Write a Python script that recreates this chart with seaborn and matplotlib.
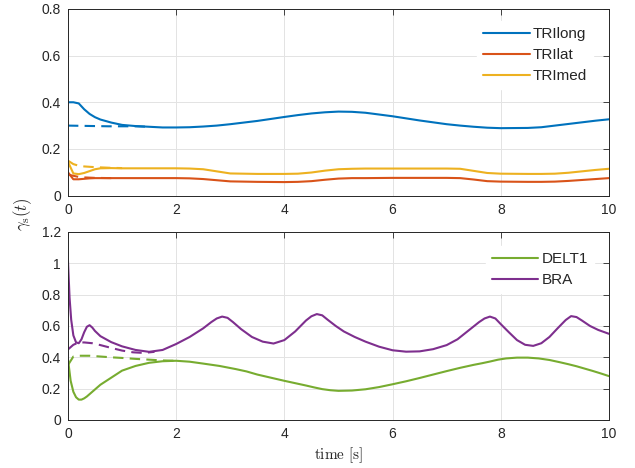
import matplotlib
matplotlib.use("Agg")
import matplotlib.pyplot as plt
import seaborn as sns

# time grid for the upper panel (s)
t_top = [0, 0.1, 0.2, 0.3, 0.4, 0.5, 0.6, 0.8, 1.0, 1.25, 1.5, 1.75, 2.0, 2.25,
         2.5, 2.75, 3.0, 3.5, 4.0, 4.25, 4.5, 4.75, 5.0, 5.25, 5.5, 6.0, 6.5,
         7.0, 7.25, 7.5, 7.75, 8.0, 8.5, 8.75, 9.0, 9.25, 9.5, 9.75, 10.0]

tri_long = [0.400, 0.400, 0.395, 0.370, 0.350, 0.336, 0.326, 0.313, 0.303, 0.298,
            0.295, 0.292, 0.292, 0.293, 0.296, 0.300, 0.306, 0.320, 0.337, 0.345,
            0.352, 0.357, 0.360, 0.359, 0.355, 0.340, 0.322, 0.306, 0.300, 0.295,
            0.291, 0.289, 0.290, 0.293, 0.300, 0.307, 0.314, 0.321, 0.327]

tri_lat = [0.100, 0.070, 0.070, 0.072, 0.074, 0.075, 0.075, 0.075, 0.075, 0.075,
           0.075, 0.075, 0.075, 0.074, 0.071, 0.066, 0.061, 0.059, 0.058, 0.059,
           0.062, 0.068, 0.073, 0.075, 0.075, 0.076, 0.076, 0.076, 0.075, 0.069,
           0.062, 0.060, 0.059, 0.059, 0.060, 0.063, 0.067, 0.071, 0.075]

tri_med = [0.145, 0.095, 0.092, 0.097, 0.105, 0.113, 0.117, 0.118, 0.117, 0.117,
           0.117, 0.117, 0.117, 0.116, 0.113, 0.104, 0.095, 0.093, 0.093, 0.094,
           0.099, 0.107, 0.113, 0.115, 0.116, 0.116, 0.116, 0.116, 0.115, 0.106,
           0.097, 0.094, 0.093, 0.093, 0.094, 0.098, 0.104, 0.110, 0.115]

# dashed (reference) traces, only where they differ from the solid ones
t_long_ref = [0, 0.25, 0.5, 0.75, 1.0, 1.25, 1.5]
tri_long_ref = [0.300, 0.299, 0.298, 0.297, 0.297, 0.297, 0.295]
t_lat_ref = [0, 0.1, 0.2, 0.3, 0.5, 0.8]
tri_lat_ref = [0.090, 0.085, 0.080, 0.078, 0.076, 0.075]
t_med_ref = [0, 0.1, 0.2, 0.3, 0.5, 0.8, 1.0]
tri_med_ref = [0.150, 0.135, 0.128, 0.125, 0.122, 0.119, 0.118]

# lower panel (s)
t_delt1 = [0, 0.05, 0.1, 0.15, 0.2, 0.25, 0.3, 0.35, 0.4, 0.5, 0.6, 0.8, 1.0,
           1.25, 1.5, 1.75, 2.0, 2.25, 2.5, 2.8, 3.1, 3.3, 3.5, 3.75, 4.0, 4.2,
           4.4, 4.55, 4.7, 4.85, 5.0, 5.25, 5.5, 5.75, 6.0, 6.25, 6.5, 6.75, 7.0,
           7.25, 7.5, 7.65, 7.8, 7.95, 8.1, 8.3, 8.5, 8.7, 8.9, 9.1, 9.25, 9.4,
           9.55, 9.7, 9.85, 10.0]

delt1 = [0.390, 0.250, 0.180, 0.145, 0.130, 0.130, 0.138, 0.150, 0.165, 0.195,
         0.225, 0.270, 0.315, 0.345, 0.365, 0.375, 0.378, 0.372, 0.360, 0.345,
         0.325, 0.310, 0.290, 0.270, 0.250, 0.235, 0.220, 0.208, 0.197, 0.190,
         0.186, 0.188, 0.196, 0.210, 0.228, 0.247, 0.268, 0.290, 0.312, 0.333,
         0.352, 0.362, 0.373, 0.385, 0.393, 0.398, 0.398, 0.393, 0.383, 0.368,
         0.356, 0.343, 0.328, 0.313, 0.297, 0.280]

t_bra = [0, 0.03, 0.06, 0.1, 0.15, 0.2, 0.25, 0.3, 0.35, 0.4, 0.45, 0.5, 0.6,
         0.8, 1.0, 1.25, 1.5, 1.75, 2.0, 2.25, 2.5, 2.65, 2.75, 2.85, 2.95, 3.05,
         3.2, 3.4, 3.6, 3.8, 4.0, 4.2, 4.4, 4.5, 4.6, 4.7, 4.8, 4.95, 5.1, 5.3,
         5.5, 5.75, 6.0, 6.25, 6.5, 6.75, 7.0, 7.2, 7.4, 7.6, 7.7, 7.8, 7.9, 8.0,
         8.15, 8.3, 8.45, 8.6, 8.75, 8.9, 9.05, 9.2, 9.3, 9.4, 9.5, 9.65, 9.8,
         10.0]

bra = [1.020, 0.780, 0.640, 0.540, 0.495, 0.490, 0.515, 0.560, 0.595, 0.605,
       0.590, 0.568, 0.535, 0.497, 0.470, 0.447, 0.435, 0.447, 0.485, 0.530,
       0.585, 0.625, 0.648, 0.660, 0.652, 0.625, 0.580, 0.530, 0.500, 0.488,
       0.510, 0.565, 0.635, 0.662, 0.676, 0.668, 0.640, 0.600, 0.565, 0.530,
       0.500, 0.468, 0.445, 0.436, 0.438, 0.452, 0.478, 0.515, 0.570, 0.625,
       0.648, 0.660, 0.648, 0.612, 0.560, 0.510, 0.480, 0.473, 0.490, 0.530,
       0.585, 0.638, 0.663, 0.657, 0.635, 0.600, 0.575, 0.550]

t_delt1_ref = [0, 0.1, 0.2, 0.4, 0.6, 0.8, 1.0, 1.25, 1.5, 1.75, 2.0]
delt1_ref = [0.350, 0.405, 0.410, 0.410, 0.405, 0.400, 0.396, 0.390, 0.385, 0.380, 0.378]
t_bra_ref = [0, 0.1, 0.2, 0.3, 0.45, 0.6, 0.8, 1.0, 1.2, 1.4, 1.6]
bra_ref = [0.450, 0.480, 0.495, 0.495, 0.490, 0.478, 0.460, 0.443, 0.432, 0.428, 0.435]

sns.set_style("white")
plt.rcParams["font.family"] = ["Liberation Sans", "DejaVu Sans"]
plt.rcParams["mathtext.fontset"] = "cm"

c_blue, c_red, c_yel = "#0072BD", "#D95319", "#EDB120"
c_pur, c_grn = "#7E2F8E", "#77AC30"
lw = 1.5
dash = (5, 3)

fig = plt.figure(figsize=(6.35, 4.68), dpi=100)
ax1 = fig.add_axes([0.107, 0.582, 0.852, 0.399])
ax2 = fig.add_axes([0.107, 0.1026, 0.852, 0.4017])

sns.lineplot(x=t_top, y=tri_long, ax=ax1, color=c_blue, lw=lw, label="TRIlong")
sns.lineplot(x=t_top, y=tri_lat, ax=ax1, color=c_red, lw=lw, label="TRIlat")
sns.lineplot(x=t_top, y=tri_med, ax=ax1, color=c_yel, lw=lw, label="TRImed")
sns.lineplot(x=t_long_ref, y=tri_long_ref, ax=ax1, color=c_blue, lw=lw, ls=(0, dash))
sns.lineplot(x=t_lat_ref, y=tri_lat_ref, ax=ax1, color=c_red, lw=lw, ls=(0, dash))
sns.lineplot(x=t_med_ref, y=tri_med_ref, ax=ax1, color=c_yel, lw=lw, ls=(0, dash))

sns.lineplot(x=t_delt1, y=delt1, ax=ax2, color=c_grn, lw=lw, label="DELT1")
sns.lineplot(x=t_bra, y=bra, ax=ax2, color=c_pur, lw=lw, label="BRA")
sns.lineplot(x=t_delt1_ref, y=delt1_ref, ax=ax2, color=c_grn, lw=lw, ls=(0, dash))
sns.lineplot(x=t_bra_ref, y=bra_ref, ax=ax2, color=c_pur, lw=lw, ls=(0, dash))

panels = [(ax1, 0.8, [0, 0.2, 0.4, 0.6, 0.8], (0.993, 0.999)),
          (ax2, 1.2, [0, 0.2, 0.4, 0.6, 0.8, 1, 1.2], (0.995, 0.99))]
for ax, ymax, yticks, anchor in panels:
    ax.set_xlim(0, 10)
    ax.set_ylim(0, ymax)
    ax.set_xticks([0, 2, 4, 6, 8, 10])
    ax.set_yticks(yticks)
    ax.set_yticklabels([f"{v:g}" for v in yticks])
    ax.grid(True, color="#e3e3e3", lw=0.7)
    ax.set_axisbelow(True)
    for s in ax.spines.values():
        s.set_color("#262626")
        s.set_linewidth(0.7)
    ax.tick_params(direction="in", top=True, right=True, length=4, width=0.6,
                   color="#262626", labelsize=10, labelcolor="#262626", pad=5)
    ax.set_xlabel("")
    ax.set_ylabel("")
    h, l = ax.get_legend_handles_labels()
    ax.legend(h, l, loc="upper right", bbox_to_anchor=anchor, fontsize=11,
              handlelength=3.05, handletextpad=0.2, labelspacing=0.44,
              borderaxespad=0.8, fancybox=False, framealpha=1, edgecolor="white")

ax2.set_xlabel(r"$\mathrm{time\ [s]}$", fontsize=11, labelpad=3)
fig.text(0.035, 0.543, r"$\gamma_{\mathrm{s}}(t)$", rotation=90, fontsize=12,
         ha="center", va="center")

fig.savefig("out.png", dpi=100)
